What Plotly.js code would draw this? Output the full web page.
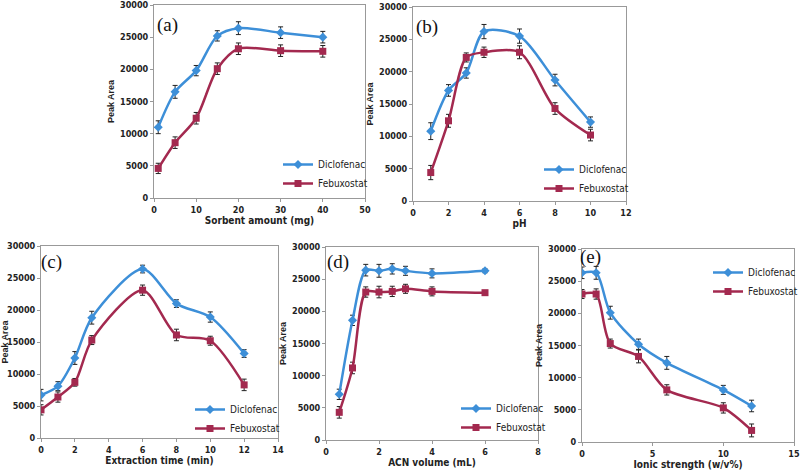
<!DOCTYPE html>
<html><head><meta charset="utf-8">
<script src="https://cdn.plot.ly/plotly-3.0.1.min.js"></script>
<style>html,body{margin:0;padding:0;background:#fff}#chart{width:800px;height:474px}</style>
</head><body><div id="chart"></div>
<script>
// Panel (a) Sorbent amount
const xA = [1,5,10,15,20,30,40];
const dicA = [11000,16500,19800,25200,26400,25700,25000];
const dicAErr = [1000,1000,800,800,1000,900,900];
const febA = [4600,8600,12400,20100,23200,22900,22800];
const febAErr = [800,900,900,900,900,900,900];
// Panel (b) pH
const xB = [1,2,3,4,6,8,10];
const dicB = [10800,17100,19800,26200,25500,18700,12200];
const dicBErr = [1300,900,800,1100,1100,900,800];
const febB = [4400,12400,22200,23000,23000,14300,10200];
const febBErr = [1100,1000,700,800,1000,900,900];
// Panel (c) Extraction time
const xC = [0,1,2,3,6,8,10,12];
const dicC = [6700,8100,12500,18800,26400,21000,18900,13200];
const dicCErr = [900,700,1000,1000,600,600,800,600];
const febC = [4400,6400,8700,15300,23100,16100,15200,8300];
const febCErr = [800,800,600,700,800,900,700,900];
// Panel (d) ACN volume
const xD = [0.5,1,1.5,2,2.5,3,4,6];
const dicD = [7100,18600,26400,26300,26600,26300,25900,26300];
const dicDErr = [800,800,900,1000,800,700,700,300];
const febD = [4300,11200,23000,23000,23100,23500,23100,22900];
const febDErr = [900,900,800,900,800,700,700,300];
// Panel (e) Ionic strength
const xE = [0,1,2,4,6,10,12];
const dicE = [26300,26300,20100,15200,12300,8100,5600];
const dicEErr = [900,1000,1000,800,1000,700,900];
const febE = [23000,23000,15300,13300,8100,5300,1800];
const febEErr = [700,800,700,1000,800,800,1000];

const panelLabels = ['(a)','(b)','(c)','(d)','(e)'];
const xTitles = ['Sorbent amount (mg)','pH','Extraction time (min)','ACN volume (mL)','Ionic strength (w/v%)'];
const xRanges = [[0,50],[0,12],[0,14],[0,8],[0,15]];
const xDticks = [10,2,2,2,5];
const seriesNames = ['Diclofenac','Febuxostat'];

const BLUE = '#3d8fd8', RED = '#a3294f';
const panels = [
  {x:xA, d:dicA, de:dicAErr, f:febA, fe:febAErr},
  {x:xB, d:dicB, de:dicBErr, f:febB, fe:febBErr},
  {x:xC, d:dicC, de:dicCErr, f:febC, fe:febCErr},
  {x:xD, d:dicD, de:dicDErr, f:febD, fe:febDErr},
  {x:xE, d:dicE, de:dicEErr, f:febE, fe:febEErr}
];
// plot area pixel boxes [x0,x1,yTop,yBottom]
const boxes = [[154,365,5,198],[413,626,7,201],[41,278,246,438],[326,538,247,440],[582,794,249,442]];
const legPos = [[278,150],[539,155],[190,395],[456,394],[708,258]];
const labPos = [[167,25],[427,27],[51,262],[338,262],[590,257]];
const W=800,H=474;
const tickFont = {family:'Liberation Sans Narrow, DejaVu Sans Condensed, sans-serif', size:9, color:'#222', weight:'bold'};
const titleFont = {family:'Liberation Sans Narrow, DejaVu Sans Condensed, sans-serif', size:10, color:'#222', weight:'bold'};
const yTitleFont = {family:'Liberation Sans, Arial, sans-serif', size:9, color:'#222', weight:'bold'};

const traces = [];
const layout = {width:W, height:H, margin:{l:0,r:0,t:0,b:0,autoexpand:false}, showlegend:true,
  paper_bgcolor:'#fff', plot_bgcolor:'#fff', annotations:[]};

panels.forEach((p,i)=>{
  const n = i+1;
  const xa = n===1?'x':'x'+n, ya = n===1?'y':'y'+n;
  const lg = n===1?'legend':'legend'+n;
  const b = boxes[i];
  traces.push({x:p.x, y:p.d, xaxis:xa, yaxis:ya, legend:lg, name:seriesNames[0], legendgroup:'d'+n,
    type:'scatter', mode:'lines+markers', line:{color:BLUE, width:2.5, shape:'spline', smoothing:0.8},
    marker:{symbol:'diamond', size:7, color:BLUE},
    error_y:{type:'data', array:p.de, visible:true, color:'#222', thickness:1, width:2.5}});
  traces.push({x:p.x, y:p.f, xaxis:xa, yaxis:ya, legend:lg, name:seriesNames[1], legendgroup:'f'+n,
    type:'scatter', mode:'lines+markers', line:{color:RED, width:2.5, shape:'spline', smoothing:0.8},
    marker:{symbol:'square', size:7, color:RED},
    error_y:{type:'data', array:p.fe, visible:true, color:'#222', thickness:1, width:2.5}});
  const key = n===1?'':n;
  layout['xaxis'+key] = {domain:[b[0]/W, b[1]/W], anchor:ya, range:xRanges[i], dtick:xDticks[i], tick0:0,
    showgrid:false, zeroline:false, showline:true, linecolor:'#999', linewidth:1, mirror:true,
    ticks:'outside', ticklen:3, tickcolor:'#999', tickfont:tickFont, automargin:false,
    title:{text:xTitles[i], font:titleFont, standoff:2}};
  layout['yaxis'+key] = {domain:[(H-b[3])/H, (H-b[2])/H], anchor:xa, range:[0,30000], dtick:5000, tickformat:'d',
    showgrid:false, zeroline:false, showline:true, linecolor:'#999', linewidth:1, mirror:true,
    ticks:'outside', ticklen:3, tickcolor:'#999', tickfont:tickFont, automargin:false,
    title:{text:'Peak Area', font:yTitleFont, standoff:3}};
  layout[lg] = {x:legPos[i][0]/W, y:(H-legPos[i][1])/H, xanchor:'left', yanchor:'top',
    bgcolor:'rgba(0,0,0,0)', font:{family:'Liberation Sans Narrow, DejaVu Sans Condensed, sans-serif', size:10, color:'#222'},
    traceorder:'grouped', tracegroupgap:0, itemwidth:30};
  layout.annotations.push({text:panelLabels[i], xref:'paper', yref:'paper', x:labPos[i][0]/W, y:(H-labPos[i][1])/H,
    xanchor:'center', yanchor:'middle', showarrow:false,
    font:{family:'Liberation Serif, Times New Roman, serif', size:19, color:'#111'}});
});

Plotly.newPlot('chart', traces, layout, {displayModeBar:false, staticPlot:true});
</script></body></html>
